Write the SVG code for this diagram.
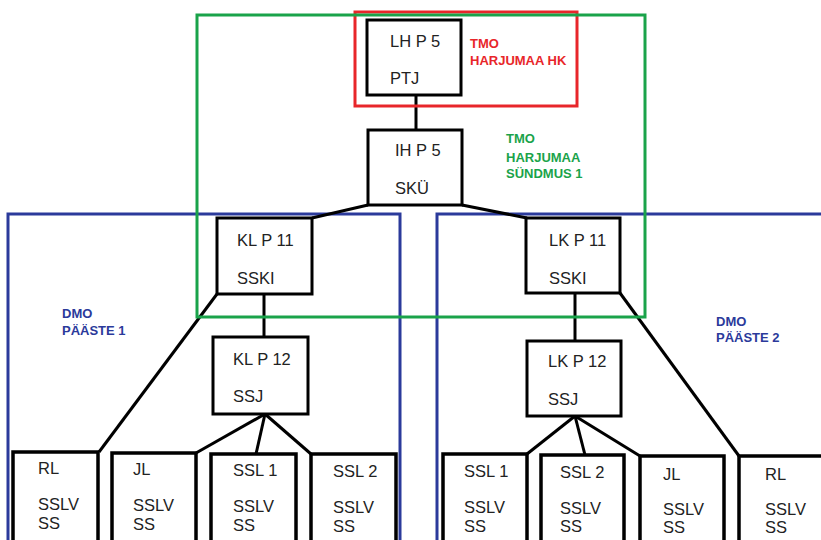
<svg xmlns="http://www.w3.org/2000/svg" width="821" height="540" viewBox="0 0 821 540">
<style>
.box{fill:#fff;stroke:#000;stroke-width:3}
.leaf{fill:#fff;stroke:#000;stroke-width:3.5}
.t{font-family:"Liberation Sans",Arial,sans-serif;font-size:16.5px;fill:#222}
.lbl{font-family:"Liberation Sans",Arial,sans-serif;font-size:13px;font-weight:bold}
.red{fill:#e8262a}.grn{fill:#1aa34a}.blu{fill:#2b3a9b}
.conn line{stroke:#000;stroke-width:3}
</style>
<rect width="821" height="540" fill="#fff"/>
<g id="group-dmo1"><rect x="8" y="214" width="392" height="340" fill="none" stroke="#2b3a9b" stroke-width="3"/><text class="lbl blu" x="62" y="318">DMO</text><text class="lbl blu" x="62" y="335">PÄÄSTE 1</text></g>
<g id="group-dmo2"><rect x="437" y="214" width="400" height="340" fill="none" stroke="#2b3a9b" stroke-width="3"/><text class="lbl blu" x="716" y="326">DMO</text><text class="lbl blu" x="716" y="342">PÄÄSTE 2</text></g>
<g class="conn" id="connectors">
<line x1="416" y1="95" x2="416" y2="130"/>
<line x1="368" y1="205" x2="312" y2="218"/>
<line x1="462" y1="205" x2="527" y2="218"/>
<line x1="264" y1="294" x2="264" y2="337"/>
<line x1="217" y1="294" x2="99" y2="452"/>
<line x1="265" y1="414" x2="196" y2="453"/>
<line x1="265" y1="414" x2="256" y2="454"/>
<line x1="265" y1="414" x2="311" y2="454"/>
<line x1="575" y1="293" x2="575" y2="341"/>
<line x1="620" y1="293" x2="739" y2="456"/>
<line x1="575" y1="416" x2="527" y2="454"/>
<line x1="575" y1="416" x2="585" y2="455"/>
<line x1="575" y1="416" x2="640" y2="456"/>
</g>
<g id="n-lhp5"><rect class="box" x="367" y="20" width="94" height="75"/><text class="t" x="390" y="47">LH P 5</text><text class="t" x="390" y="84">PTJ</text></g>
<g id="n-ihp5"><rect class="box" x="368" y="130" width="94" height="75"/><text class="t" x="395" y="156">IH P 5</text><text class="t" x="395" y="194">SKÜ</text></g>
<g id="n-klp11"><rect class="box" x="217" y="218" width="95" height="76"/><text class="t" x="237" y="246">KL P 11</text><text class="t" x="237" y="284">SSKI</text></g>
<g id="n-klp12"><rect class="box" x="213" y="337" width="95" height="77"/><text class="t" x="233" y="365">KL P 12</text><text class="t" x="233" y="402">SSJ</text></g>
<g id="n-lkp11"><rect class="box" x="526" y="218" width="94" height="75"/><text class="t" x="549" y="246">LK P 11</text><text class="t" x="549" y="284">SSKI</text></g>
<g id="n-lkp12"><rect class="box" x="527" y="341" width="94" height="75"/><text class="t" x="548" y="367">LK P 12</text><text class="t" x="548" y="405">SSJ</text></g>
<g id="n-l-rl"><rect class="leaf" x="13" y="452" width="85" height="95"/><text class="t" x="38" y="474">RL</text><text class="t" x="38" y="510">SSLV</text><text class="t" x="38" y="529">SS</text></g>
<g id="n-l-jl"><rect class="leaf" x="112" y="453" width="84" height="95"/><text class="t" x="133" y="475">JL</text><text class="t" x="133" y="511">SSLV</text><text class="t" x="133" y="530">SS</text></g>
<g id="n-l-ssl1"><rect class="leaf" x="211" y="454" width="85" height="95"/><text class="t" x="233" y="476">SSL 1</text><text class="t" x="233" y="512">SSLV</text><text class="t" x="233" y="531">SS</text></g>
<g id="n-l-ssl2"><rect class="leaf" x="311" y="454" width="85" height="95"/><text class="t" x="333" y="477">SSL 2</text><text class="t" x="333" y="513">SSLV</text><text class="t" x="333" y="532">SS</text></g>
<g id="n-r-ssl1"><rect class="leaf" x="443" y="454" width="84" height="95"/><text class="t" x="464" y="477">SSL 1</text><text class="t" x="464" y="513">SSLV</text><text class="t" x="464" y="532">SS</text></g>
<g id="n-r-ssl2"><rect class="leaf" x="541" y="455" width="83" height="95"/><text class="t" x="560" y="478">SSL 2</text><text class="t" x="560" y="514">SSLV</text><text class="t" x="560" y="532">SS</text></g>
<g id="n-r-jl"><rect class="leaf" x="640" y="456" width="84" height="95"/><text class="t" x="663" y="480">JL</text><text class="t" x="663" y="515">SSLV</text><text class="t" x="663" y="533">SS</text></g>
<g id="n-r-rl"><rect class="leaf" x="739" y="456" width="100" height="95"/><text class="t" x="765" y="480">RL</text><text class="t" x="765" y="515">SSLV</text><text class="t" x="765" y="533">SS</text></g>
<g id="group-hk"><rect x="355" y="12" width="222" height="94" fill="none" stroke="#e8262a" stroke-width="3"/><text class="lbl red" x="470" y="48">TMO</text><text class="lbl red" x="470" y="65">HARJUMAA HK</text></g>
<g id="group-sundmus"><rect x="197" y="15" width="448" height="302" fill="none" stroke="#1aa34a" stroke-width="3"/><text class="lbl grn" x="506" y="143">TMO</text><text class="lbl grn" x="506" y="162">HARJUMAA</text><text class="lbl grn" x="506" y="178">SÜNDMUS 1</text></g>
</svg>
